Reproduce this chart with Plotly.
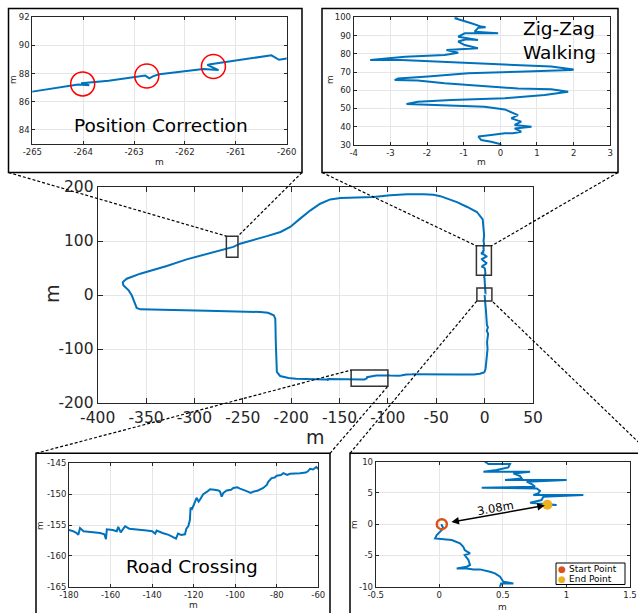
import plotly.graph_objects as go

W, H = 638, 613

# ---------------- trajectory data (metres) ----------------
start_pt = [0.02, 0.0]
end_pt = [0.85, 3.1]

near_start_x = [0.019, 0.032, 0.006, -0.02, -0.033, 0.006, 0.098, 0.163, 0.189, 0.2, 0.242, 0.2, 0.229,
                0.242, 0.216, 0.137, 0.216, 0.268, 0.32, 0.399, 0.438, 0.478, 0.504, 0.583, 0.486, 0.478]
near_start_y = [-0.13, -0.67, -1.2, -1.73, -2.27, -2.37, -2.53, -3.07, -3.6, -4.13, -4.67, -4.93, -5.73,
                -6.53, -6.8, -7.07, -7.07, -7.23, -7.23, -7.6, -7.87, -8.4, -9.2, -9.47, -9.47, -10.0]

east_x = [0.5, 1.2, 1.8, 2.4, 3.4, 2.2, 3.6, 2.5, 3.0, 2.4, 2.0, 1.5, 1.0, 0.0, -1.0, -5.0, -11, -25, -45]
east_y = [-12, -25, -40, -56, -60, -66, -72, -87, -100, -112, -124, -132, -136, -142, -143.5, -145.7,
          -147, -147.3, -147.0]

road_x = [-180, -178, -176.3, -175.5, -174.7, -173, -171.5, -168, -165, -163, -162.2, -161.8, -159, -157,
          -156.3, -155.1, -154, -153, -151, -149, -145, -142.6, -140, -138.5, -137.8, -135, -132, -129.8,
          -128.5, -127.5, -126, -124.2, -123.5, -122.6, -121.8, -121.5, -120.8, -120, -119.4, -118.6,
          -117.6, -117, -115.4, -113.5, -112.1, -110, -108, -107.3, -106.5, -105.7, -104.1, -102, -100.9,
          -99, -97.7, -95.5, -94.5, -92.5, -91.3, -89, -86.5, -84.8, -84.1, -82.5, -81, -80, -78, -76.8,
          -75, -73.6, -71, -68.8, -66, -65, -64, -62.5, -61, -60]
road_y = [-155.8, -156.0, -156.3, -156.6, -155.5, -156.0, -156.1, -156.2, -156.3, -156.5, -157.3, -155.7,
          -155.8, -156.0, -155.3, -156.2, -155.6, -155.2, -155.6, -155.6, -155.8, -155.9, -156.0, -156.4,
          -155.9, -156.3, -156.6, -157.0, -157.2, -156.4, -156.6, -156.5, -155.6, -155.2, -154.2, -152.2,
          -152.4, -151.8, -151.4, -150.6, -151.2, -150.9, -150.0, -149.6, -149.2, -149.3, -149.4, -149.6,
          -150.4, -149.8, -149.4, -149.3, -149.0, -148.9, -149.1, -149.4, -149.5, -149.8, -149.6, -149.4,
          -149.0, -148.5, -148.0, -147.4, -147.3, -147.0, -146.9, -146.6, -146.9, -146.7, -146.7, -146.6,
          -146.5, -146.3, -145.9, -146.0, -145.6, -145.9]

west_x = [-183.8, -195, -202.8, -208, -211.4, -214.8, -215.5, -215.9, -216.2, -216.4, -218, -224, -232,
          -252.8, -287, -321.7, -345, -356, -359.7, -362, -364.8, -368, -373.5, -374, -370, -356, -328.6,
          -308, -287, -275]
west_y = [-155.4, -155.0, -153.7, -152, -150, -142.6, -120, -87, -60, -43.8, -37.6, -33, -31.5, -30.3,
          -29, -27.8, -27, -26.6, -24, -13, -0.6, 8.6, 17.9, 24, 30.2, 39.5, 53.7, 66, 76.5, 81.5]

corr_x = [-265, -264.5, -264.1, -263.88, -264.04, -263.5, -263, -262.78, -262.7, -262.62, -262.5, -262,
          -261.64, -261.34, -261.56, -261.5, -261, -260.4, -260.3, -260.15, -260.0, -259.8]
corr_y = [86.72, 86.98, 87.22, 87.18, 87.32, 87.5, 87.76, 87.86, 87.66, 87.82, 87.95, 88.15,
          88.33, 88.25, 88.62, 88.66, 88.94, 89.28, 89.3, 88.98, 89.08, 89.12]

north_x = [-252.8, -240, -225, -211, -201, -190.7, -180, -170, -159.7, -149, -132, -114.8, -97.6, -80,
           -63, -52.8, -45.8, -28.6, -18, -8, -2, -1, -0.5]
north_y = [95, 101, 109, 116.7, 126, 141.4, 156.8, 169, 177, 179.6, 180.2, 181.5, 184.6, 186.4, 186.4,
           185.8, 183, 172, 163, 153.7, 140, 126, 110]

zig_x = [-1.15, -1.24, -0.79, -0.52, -0.4, -0.6, -0.7, -0.06, -0.97, -1.15, -0.61, -0.93, -1.15, -0.97,
         -0.61, -1.06, -1.47, -1.15, -1.52, -2.6, -3.15, -3.55, -2.7, -1.34, 0.03, 1.39, 2.0, 1.94, 0.48,
         -0.88, -1.97, -2.79, -2.88, -2.25, -1.52, -0.43, 0.48, 1.39, 1.85, 1.21, 0.12, -1.34, -2.25,
         -2.56, -1.79, -0.43, 0.12, 0.25, 0.48, 0.3, 0.57, 0.39, 0.85, 0.39, 0.57, 0.35, 0.12, -0.25,
         -0.6, -0.52, -0.25, 0.0]
zig_y = [100.4, 99.5, 96.7, 94.9, 94.6, 94.3, 92.1, 91.2, 91.2, 89.4, 87.6, 87.9, 86.7, 84.8, 83, 82.4,
         82.1, 80.6, 79.3, 78.4, 77.5, 76.6, 76.6, 75.5, 74.4, 73, 71.4, 71.1, 70.2, 69.3, 67.5, 66.5,
         65.6, 65.3, 63.8, 62.3, 61, 60.5, 59.2, 57.4, 55.6, 54.7, 53.7, 52.5, 51.9, 51, 49.5, 48.3,
         46.4, 44.6, 42.8, 41, 40, 39.1, 37.3, 36.4, 36.4, 35.5, 34.6, 32.7, 31.8, 30.5]

mid_x = [0.1, 0.3]
mid_y = [24, 16]

near_end_x = [0.36, 0.386, 0.556, 0.543, 0.452, 0.347, 0.714, 0.583, 0.635, 0.648, 0.517, 1.002, 0.687,
              0.727, 0.753, 0.334, 0.766, 0.792, 0.779, 0.74, 1.133, 0.818, 0.805, 0.714, 0.923, 0.85]
near_end_y = [10.0, 9.63, 9.63, 9.09, 8.67, 8.4, 8.4, 8.13, 7.71, 7.33, 7.07, 7.07, 6.8, 6.43, 6.0,
              5.84, 5.73, 5.36, 4.93, 4.67, 4.67, 4.4, 3.87, 3.44, 3.07, 3.1]

path_x = ([start_pt[0]] + near_start_x + east_x + road_x[::-1] + west_x + corr_x + north_x + zig_x
          + mid_x + near_end_x)
path_y = ([start_pt[1]] + near_start_y + east_y + road_y[::-1] + west_y + corr_y + north_y + zig_y
          + mid_y + near_end_y)

# correction marks (red circles)
corr_mark_x = [-264.01, -262.75, -261.44]
corr_mark_y = [87.27, 87.83, 88.5]

# zoomed regions drawn on the main map: [x0, x1, y0, y1]
box_corr = [-267, -255, 70, 109]
box_zig = [-8.5, 7, 36.5, 91]
box_start = [-8, 7.5, -11, 13]
box_road = [-138, -100, -169, -139]

# legend labels
legend_names = ["Start Point", "End Point"]
START_C = "#D95319"
END_C = "#EDB120"

# ---------------- ticks ----------------
main_xt = [-400, -350, -300, -250, -200, -150, -100, -50, 0, 50]
main_xl = ["-400", "-350", "-300", "-250", "-200", "-150", "-100", "-50", "0", "50"]
main_yt = [-200, -100, 0, 100, 200]
main_yl = ["-200", "-100", "0", "100", "200"]
corr_xt = [-265, -264, -263, -262, -261, -260]
corr_xl = ["-265", "-264", "-263", "-262", "-261", "-260"]
corr_yt = [84, 86, 88, 90, 92]
corr_yl = ["84", "86", "88", "90", "92"]
zig_xt = [-4, -3, -2, -1, 0, 1, 2, 3]
zig_xl = ["-4", "-3", "-2", "-1", "0", "1", "2", "3"]
zig_yt = [30, 40, 50, 60, 70, 80, 90, 100]
zig_yl = ["30", "40", "50", "60", "70", "80", "90", "100"]
road_xt = [-180, -160, -140, -120, -100, -80, -60]
road_xl = ["-180", "-160", "-140", "-120", "-100", "-80", "-60"]
road_yt = [-165, -160, -155, -150, -145]
road_yl = ["-165", "-160", "-155", "-150", "-145"]
st_xt = [-0.5, 0, 0.5, 1, 1.5]
st_xl = ["-0.5", "0", "0.5", "1", "1.5"]
st_yt = [-10, -5, 0, 5, 10]
st_yl = ["-10", "-5", "0", "5", "10"]

BLUE = "#0072BD"
AX = "#262626"
GRID = "#e6e6e6"
FONT = "DejaVu Sans"


def xdom(l, r):
    return [l / W, r / W]


def ydom(t, b):
    return [1 - b / H, 1 - t / H]


def axis(dom, rng, tv, tt, fs, tl, anchor):
    return dict(domain=dom, range=rng, tickmode="array", tickvals=tv, ticktext=tt,
                ticks="inside", ticklen=tl, tickwidth=1, tickcolor=AX,
                showline=True, linecolor=AX, linewidth=1, mirror="ticks",
                showgrid=True, gridcolor=GRID, gridwidth=1, zeroline=False,
                tickfont=dict(family=FONT, size=fs, color=AX), anchor=anchor,
                automargin=False)


fig = go.Figure()

axes_ids = [("x", "y"), ("x2", "y2"), ("x3", "y3"), ("x4", "y4"), ("x5", "y5")]
for xa, ya in axes_ids:
    fig.add_trace(go.Scatter(x=path_x, y=path_y, mode="lines", xaxis=xa, yaxis=ya,
                             line=dict(color=BLUE, width=2), showlegend=False, hoverinfo="skip"))

fig.add_trace(go.Scatter(x=corr_mark_x, y=corr_mark_y, mode="markers", xaxis="x2", yaxis="y2",
                         marker=dict(symbol="circle-open", size=24, color="red", line=dict(width=1.5, color="red")),
                         showlegend=False))

fig.add_trace(go.Scatter(x=[start_pt[0]], y=[start_pt[1]], mode="markers", xaxis="x5", yaxis="y5",
                         name=legend_names[0],
                         marker=dict(symbol="circle-open", size=10, color=START_C,
                                     line=dict(width=2.5, color=START_C)),
                         showlegend=False))
fig.add_trace(go.Scatter(x=[end_pt[0]], y=[end_pt[1]], mode="markers", xaxis="x5", yaxis="y5",
                         name=legend_names[1], marker=dict(symbol="circle", size=10, color=END_C),
                         showlegend=False))

# ---------------- layout ----------------
main_xd, main_yd = xdom(97.7, 533), ydom(187, 403)
tl_xd, tl_yd = xdom(32.3, 286.7), ydom(17.3, 144)
tr_xd, tr_yd = xdom(353.7, 610.3), ydom(17.3, 145)
bl_xd, bl_yd = xdom(69, 318.3), ydom(463.3, 586.7)
br_xd, br_yd = xdom(375.7, 630), ydom(461.7, 586.7)

main_xr, main_yr = [-400, 50], [-200, 200]

fig.update_layout(
    width=W, height=H, margin=dict(l=0, r=0, t=0, b=0), template="none",
    paper_bgcolor="white", plot_bgcolor="white",
    font=dict(family=FONT, color=AX), showlegend=False,
    xaxis=axis(main_xd, main_xr, main_xt, main_xl, 15.5, 5, "y"),
    yaxis=axis(main_yd, main_yr, main_yt, main_yl, 15.5, 5, "x"),
    xaxis2=axis(tl_xd, [-265, -260], corr_xt, corr_xl, 8.5, 3, "y2"),
    yaxis2=axis(tl_yd, [83, 92], corr_yt, corr_yl, 8.5, 3, "x2"),
    xaxis3=axis(tr_xd, [-4, 3], zig_xt, zig_xl, 8.5, 3, "y3"),
    yaxis3=axis(tr_yd, [30, 100], zig_yt, zig_yl, 8.5, 3, "x3"),
    xaxis4=axis(bl_xd, [-180, -60], road_xt, road_xl, 8.5, 3, "y4"),
    yaxis4=axis(bl_yd, [-165, -145], road_yt, road_yl, 8.5, 3, "x4"),
    xaxis5=axis(br_xd, [-0.5, 1.5], st_xt, st_xl, 8.5, 3, "y5"),
    yaxis5=axis(br_yd, [-10, 10], st_yt, st_yl, 8.5, 3, "x5"),
)


def to_paper(x, y):
    px = main_xd[0] + (x - main_xr[0]) / (main_xr[1] - main_xr[0]) * (main_xd[1] - main_xd[0])
    py = main_yd[0] + (y - main_yr[0]) / (main_yr[1] - main_yr[0]) * (main_yd[1] - main_yd[0])
    return px, py


shapes = []
for b in (box_corr, box_zig, box_start, box_road):
    shapes.append(dict(type="rect", xref="x", yref="y", x0=b[0], x1=b[1], y0=b[2], y1=b[3],
                       line=dict(color="#333333", width=1.5), layer="above"))

frames = {"tl": (8.5, 8.5, 302, 172.5), "tr": (322, 8.5, 618, 172.5),
          "bl": (36, 453.3, 330, 640), "br": (350, 453.3, 650, 640)}
for l, t, r, b in frames.values():
    shapes.append(dict(type="rect", xref="paper", yref="paper", x0=l / W, x1=r / W,
                       y0=1 - b / H, y1=1 - t / H, line=dict(color="black", width=1.5)))


def conn(fx, fy, dx, dy):
    px, py = to_paper(dx, dy)
    shapes.append(dict(type="line", xref="paper", yref="paper", x0=fx / W, y0=1 - fy / H,
                       x1=px, y1=py, line=dict(color="black", width=1.2, dash="3px,2px")))


conn(8.5, 172.5, box_corr[0], box_corr[3])
conn(302, 172.5, box_corr[1], box_corr[3])
conn(322, 172.5, box_zig[0], box_zig[3])
conn(618, 172.5, box_zig[1], box_zig[3])
conn(36, 453.3, box_road[0], box_road[3])
conn(330, 453.3, box_road[1], box_road[2])
conn(350, 453.3, box_start[0], box_start[2])
conn(650, 453.3, box_start[1], box_start[2])

# legend box (bottom-right inset)
shapes.append(dict(type="rect", xref="paper", yref="paper", x0=556 / W, x1=625 / W,
                   y0=1 - 584.5 / H, y1=1 - 563 / H, line=dict(color="black", width=1),
                   fillcolor="white", layer="above"))

fig.update_layout(shapes=shapes)


def ptxt(text, x, y, size, angle=0, color=AX, xanchor="center"):
    return dict(text=text, x=x / W, y=1 - y / H, xref="paper", yref="paper", showarrow=False,
                textangle=angle, xanchor=xanchor, yanchor="middle",
                font=dict(family=FONT, size=size, color=color))


ann = [
    # axis titles
    ptxt("m", 315, 437, 19), ptxt("m", 52, 294, 19, -90),
    ptxt("m", 160, 162, 9), ptxt("m", 13, 80, 9, -90),
    ptxt("m", 481, 162, 9), ptxt("m", 330, 80, 9, -90),
    ptxt("m", 193, 605, 9), ptxt("m", 40, 525, 9, -90),
    ptxt("m", 503, 607, 9), ptxt("m", 354, 525, 9, -90),
    # legend
    ptxt("\u25CF", 561.5, 568.5, 9, color=START_C), ptxt(legend_names[0], 567, 568.5, 9, color="black", xanchor="left"),
    ptxt("\u25CF", 561.5, 579, 9, color=END_C), ptxt(legend_names[1], 567, 579, 9, color="black", xanchor="left"),
    # in-plot labels
    dict(text="Position Correction", x=-262.48, y=84.28, xref="x2", yref="y2", showarrow=False,
         font=dict(family=FONT, size=18.5, color="black")),
    dict(text="Zig-Zag<br>Walking", x=1.62, y=87.4, xref="x3", yref="y3", showarrow=False, align="left",
         font=dict(family=FONT, size=18.5, color="black")),
    dict(text="Road Crossing", x=-120.6, y=-161.76, xref="x4", yref="y4", showarrow=False,
         font=dict(family=FONT, size=18.5, color="black")),
    dict(text="3.08m", x=0.444, y=2.53, xref="x5", yref="y5", showarrow=False, textangle=-10,
         font=dict(family=FONT, size=11.5, color="black")),
    dict(text="", x=0.83, y=3.0, ax=0.084, ay=0.3, xref="x5", yref="y5", axref="x5", ayref="y5",
         showarrow=True, arrowhead=2, startarrowhead=2, arrowside="end+start", arrowsize=1,
         arrowwidth=1.5, arrowcolor="black", standoff=0, startstandoff=0),
]
fig.update_layout(annotations=ann)

fig.write_html("out.html")
